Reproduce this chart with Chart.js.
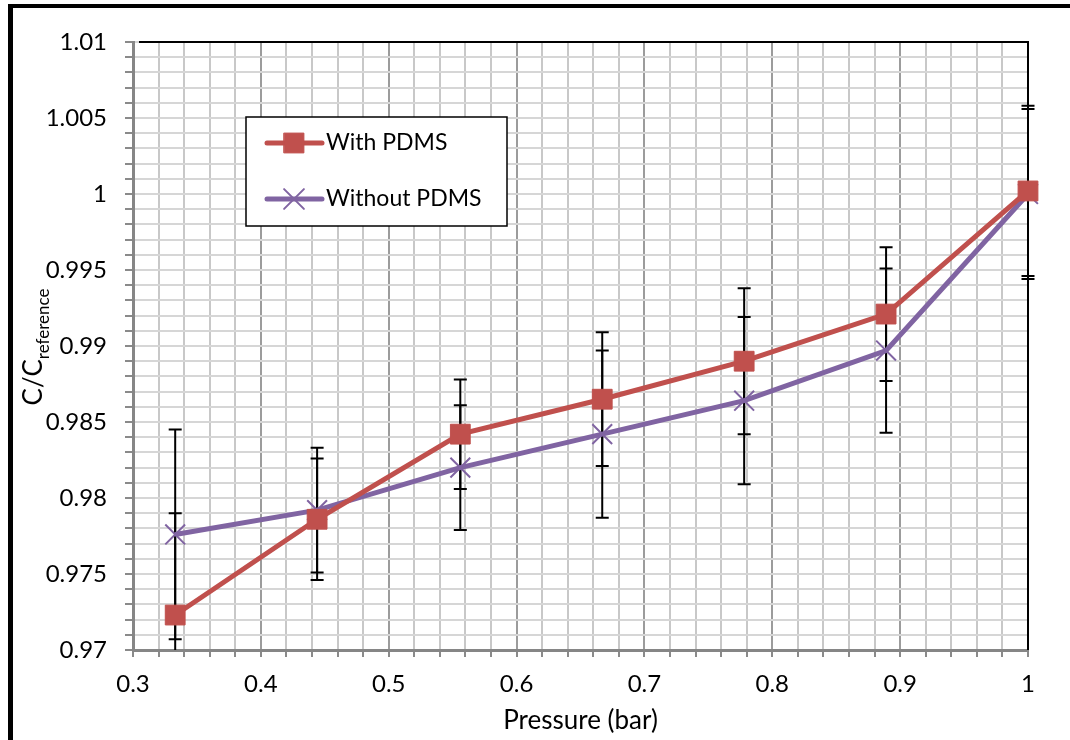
<!DOCTYPE html>
<html>
<head>
<meta charset="utf-8">
<script src="https://cdn.jsdelivr.net/npm/chart.js@4.4.0/dist/chart.umd.min.js"></script>
<style>
    html, body { margin: 0; padding: 0; background: #fff; }
    #wrap { position: relative; width: 1070px; height: 740px; }
</style>
</head>
<body>
<div id="wrap"><canvas id="pressureChart" width="1070" height="740"></canvas></div>
<script>
// Data
const pressure = [0.333, 0.444, 0.556, 0.667, 0.778, 0.889, 1.0];
const withPdms = [0.9723, 0.9786, 0.9842, 0.9865, 0.9890, 0.9921, 1.0002];
const withoutPdms = [0.9776, 0.9792, 0.9820, 0.9842, 0.9864, 0.9897, 1.0000];
const withPdmsErr = [0.0067, 0.0040, 0.0036, 0.0044, 0.0048, 0.0044, 0.0056];
const withoutPdmsErr = [0.0069, 0.0041, 0.0041, 0.0055, 0.0055, 0.0054, 0.0056];
const seriesNames = ['With PDMS', 'Without PDMS'];

const FONT = 'Lato, "Open Sans", sans-serif';
const RED = '#C0504D';
const PURPLE = '#8064A2';

function isMultiple(v, n) {
    return Math.abs(v * n - Math.round(v * n)) < 1e-6;
}

// ============================================
// Plugins
// ============================================

// black border on top and right of the plot area
const plotBorder = {
    id: 'plotBorder',
    beforeDatasetsDraw(chart) {
        const { ctx, chartArea: a } = chart;
        ctx.save();
        ctx.strokeStyle = '#000';
        ctx.lineWidth = 2;
        ctx.beginPath();
        ctx.moveTo(a.left + 6, a.top);
        ctx.lineTo(a.right, a.top);
        ctx.lineTo(a.right, a.bottom);
        ctx.stroke();
        ctx.restore();
    }
};

// vertical error bars, drawn under the markers
const errorBars = {
    id: 'errorBars',
    beforeDatasetsDraw(chart) {
        const { ctx, chartArea: a, scales: { x, y } } = chart;
        ctx.save();
        ctx.beginPath();
        ctx.rect(0, a.top, chart.width, a.bottom - a.top);
        ctx.clip();
        ctx.strokeStyle = '#000';
        ctx.lineWidth = 2;
        chart.data.datasets.forEach(ds => {
            ds.data.forEach((pt, i) => {
                const e = ds.errors[i];
                const px = x.getPixelForValue(pt.x);
                const top = y.getPixelForValue(pt.y + e);
                const bot = y.getPixelForValue(pt.y - e);
                ctx.beginPath();
                ctx.moveTo(px, top); ctx.lineTo(px, bot);
                ctx.moveTo(px - 6.5, top); ctx.lineTo(px + 6.5, top);
                ctx.moveTo(px - 6.5, bot); ctx.lineTo(px + 6.5, bot);
                ctx.stroke();
            });
        });
        ctx.restore();
    }
};

// y axis title with subscript
const yTitle = {
    id: 'yTitle',
    afterDraw(chart) {
        const ctx = chart.ctx;
        ctx.save();
        ctx.fillStyle = '#000';
        ctx.textBaseline = 'alphabetic';
        ctx.font = '26px ' + FONT;
        const main = 'C/C';
        const w1 = ctx.measureText(main).width;
        ctx.font = '17px ' + FONT;
        const sub = 'reference';
        const w2 = ctx.measureText(sub).width;
        const total = w1 + w2;
        ctx.translate(42, 347);
        ctx.rotate(-Math.PI / 2);
        ctx.font = '26px ' + FONT;
        ctx.fillText(main, -total / 2, 0);
        ctx.font = '17px ' + FONT;
        ctx.fillText(sub, -total / 2 + w1, 7);
        ctx.restore();
    }
};

// legend box inside the plot
const legendBox = {
    id: 'legendBox',
    afterDraw(chart) {
        const ctx = chart.ctx;
        const bx = 246, by = 117, bw = 261, bh = 109;
        ctx.save();
        ctx.fillStyle = '#fff';
        ctx.fillRect(bx, by, bw, bh);
        ctx.strokeStyle = '#000';
        ctx.lineWidth = 1.5;
        ctx.strokeRect(bx, by, bw, bh);
        chart.data.datasets.forEach((ds, i) => {
            const ly = by + 26 + i * 56;
            ctx.strokeStyle = ds.borderColor;
            ctx.lineWidth = ds.borderWidth;
            ctx.lineCap = 'round';
            ctx.beginPath();
            ctx.moveTo(bx + 21, ly);
            ctx.lineTo(bx + 76, ly);
            ctx.stroke();
            ctx.fillStyle = ds.pointBackgroundColor;
            ctx.strokeStyle = ds.pointBorderColor;
            ctx.lineWidth = ds.pointBorderWidth;
            Chart.helpers.drawPoint(ctx, {
                pointStyle: ds.pointStyle,
                radius: ds.pointRadius,
                rotation: 0,
                borderWidth: ds.pointBorderWidth
            }, bx + 48, ly);
            ctx.fillStyle = '#000';
            ctx.font = '23px ' + FONT;
            ctx.textBaseline = 'middle';
            ctx.fillText(ds.label, bx + 80, ly);
        });
        ctx.restore();
    }
};

// outer frame of the figure (left and top edges visible)
const frame = {
    id: 'frame',
    afterDraw(chart) {
        const ctx = chart.ctx;
        ctx.save();
        ctx.fillStyle = '#000';
        ctx.fillRect(8, 4, 5, chart.height - 4);
        ctx.fillRect(8, 4, chart.width - 8, 4);
        ctx.restore();
    }
};

// ============================================
// Chart
// ============================================
const ctx = document.getElementById('pressureChart').getContext('2d');
new Chart(ctx, {
    type: 'line',
    data: {
        datasets: [{
            label: seriesNames[0],
            data: pressure.map((p, i) => ({ x: p, y: withPdms[i] })),
            errors: withPdmsErr,
            borderColor: RED,
            borderWidth: 5,
            pointStyle: 'rect',
            pointRadius: 14,
            pointHoverRadius: 14,
            pointBackgroundColor: RED,
            pointBorderColor: RED,
            pointBorderWidth: 1,
            tension: 0,
            clip: false
        }, {
            label: seriesNames[1],
            data: pressure.map((p, i) => ({ x: p, y: withoutPdms[i] })),
            errors: withoutPdmsErr,
            borderColor: PURPLE,
            borderWidth: 5,
            pointStyle: 'crossRot',
            pointRadius: 14,
            pointHoverRadius: 14,
            pointBackgroundColor: PURPLE,
            pointBorderColor: PURPLE,
            pointBorderWidth: 2,
            tension: 0,
            clip: false
        }]
    },
    options: {
        responsive: false,
        animation: false,
        layout: {
            padding: { top: 42, right: 42, left: 0, bottom: 0 }
        },
        plugins: {
            legend: { display: false },
            tooltip: { enabled: false }
        },
        scales: {
            x: {
                type: 'linear',
                min: 0.3,
                max: 1.0,
                afterFit: scale => { scale.height = 90; },
                ticks: {
                    stepSize: 0.02,
                    autoSkip: false,
                    maxRotation: 0,
                    padding: 13,
                    color: '#000',
                    font: { family: FONT, size: 24 },
                    callback: v => isMultiple(v, 10) ? String(parseFloat(v.toFixed(2))) : ''
                },
                grid: {
                    color: c => (c.tick && isMultiple(c.tick.value, 10)) ? '#9c9c9c' : '#c8c8c8',
                    lineWidth: 2,
                    tickLength: 7,
                    tickColor: '#8a8a8a',
                    tickWidth: 2
                },
                border: { color: '#868686', width: 3 },
                title: {
                    display: true,
                    text: 'Pressure (bar)',
                    color: '#000',
                    font: { family: FONT, size: 26 },
                    padding: { top: 0, bottom: 4 }
                }
            },
            y: {
                min: 0.97,
                max: 1.01,
                afterFit: scale => { scale.width = 133; },
                ticks: {
                    stepSize: 0.001,
                    autoSkip: false,
                    padding: 18,
                    color: '#000',
                    font: { family: FONT, size: 24 },
                    callback: v => isMultiple(v, 200) ? String(parseFloat(v.toFixed(3))) : ''
                },
                grid: {
                    color: '#d6d6d6',
                    lineWidth: 2,
                    tickLength: 8,
                    tickColor: '#8a8a8a',
                    tickWidth: 2
                },
                border: { color: '#868686', width: 3 }
            }
        }
    },
    plugins: [plotBorder, errorBars, yTitle, legendBox, frame]
});
</script>
</body>
</html>
